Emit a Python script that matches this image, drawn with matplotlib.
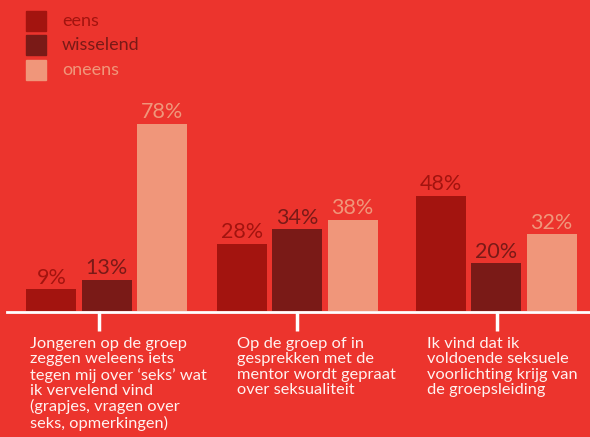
import matplotlib.pyplot as plt
import numpy as np

# data
series = ['eens', 'wisselend', 'oneens']
colors = ['#a3140f', '#7a1a17', '#f0967a']
statements = [
    "Jongeren op de groep\nzeggen weleens iets\ntegen mij over \u2018seks\u2019 wat\nik vervelend vind\n(grapjes, vragen over\nseks, opmerkingen)",
    "Op de groep of in\ngesprekken met de\nmentor wordt gepraat\nover seksualiteit",
    "Ik vind dat ik\nvoldoende seksuele\nvoorlichting krijg van\nde groepsleiding",
]
eens = [9, 28, 48]
wisselend = [13, 34, 20]
oneens = [78, 38, 32]

bg = '#ec342d'
plt.rcParams['font.family'] = ['Lato', 'DejaVu Sans']

fig = plt.figure(figsize=(5.9, 4.37), dpi=100, facecolor=bg)
ax = fig.add_axes([0, 0, 1, 1])
ax.set_facecolor(bg)
ax.set_xlim(-0.52, 2.475)
ax.set_ylim(-52.5, 129.6)
ax.axis('off')

# layout positions (group centres, tick marks, label left edges)
group_x = np.array([0.021, 0.99, 2.0])
tick_x = [-0.017, 0.988, 2.003]
label_x = [-0.367, 0.683, 1.648]
width = 0.254
offsets = [-0.28, 0.0, 0.28]

for vals, col, off in zip([eens, wisselend, oneens], colors, offsets):
    bars = ax.bar(group_x + off, vals, width=width, color=col, linewidth=0)
    for b, v in zip(bars, vals):
        ax.text(b.get_x() + b.get_width() / 2, v + 0.6, f'{v}%',
                ha='center', va='bottom', color=col, fontsize=15.5)

# axis line and ticks
ax.axhline(-0.4, xmin=7 / 590, xmax=1, color='white', lw=2)
for t in tick_x:
    ax.plot([t, t], [0, -8.5], color='white', lw=2.5, solid_capstyle='butt')

for lx, txt in zip(label_x, statements):
    ax.text(lx, -10.8, txt, ha='left', va='top', color='#fff2f0',
            fontsize=11.8, linespacing=1.12)

# legend
for i, (name, col) in enumerate(zip(series, colors)):
    y = 0.953 - i * 0.057
    fig.patches.append(plt.Rectangle((26 / 590, y - 0.023), 20 / 590, 20 / 437,
                                     transform=fig.transFigure, color=col))
    fig.text(62 / 590, y, name, color=col, fontsize=13, va='center', ha='left')

plt.savefig('out.png', dpi=100, facecolor=bg)
